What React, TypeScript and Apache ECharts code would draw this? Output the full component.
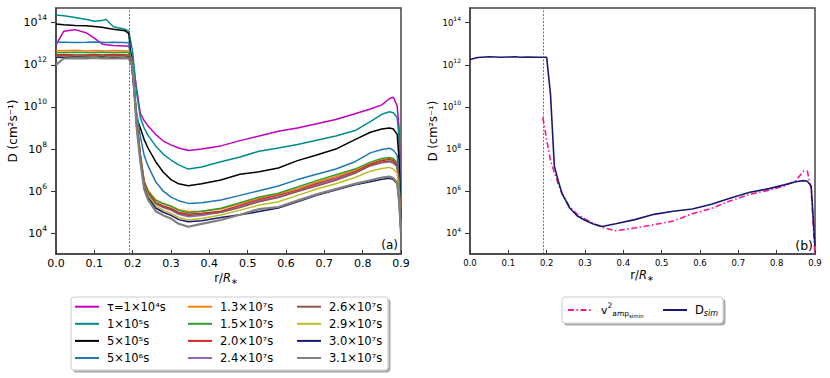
import React, { useEffect, useRef } from 'react';
import * as echarts from 'echarts';

// radial grid r/R*
const rGrid = [0, 0.02, 0.05, 0.08, 0.1, 0.12, 0.13, 0.15, 0.18, 0.19, 0.2, 0.21, 0.22, 0.23, 0.24, 0.26, 0.28, 0.3, 0.32, 0.345, 0.38, 0.43, 0.48, 0.53, 0.58, 0.63, 0.68, 0.73, 0.78, 0.82, 0.85, 0.87, 0.88, 0.89, 0.895, 0.9];

// log10 D (cm^2 s^-1), panel (a)
const logD_1e4 = [12.95, 13.59, 13.67, 13.51, 13.27, 12.99, 12.95, 12.92, 12.89, 12.88, 12.3, 10.9, 9.7, 9.35, 9.1, 8.7, 8.38, 8.2, 8.05, 7.93, 8.0, 8.15, 8.4, 8.62, 8.85, 9.0, 9.2, 9.4, 9.68, 9.9, 10.1, 10.4, 10.46, 10.05, 9.0, 4.2];
const logD_1e5 = [14.37, 14.33, 14.25, 14.15, 14.07, 14.1, 14.16, 13.81, 13.69, 13.6, 12.6, 10.7, 9.5, 9.0, 8.65, 8.15, 7.75, 7.48, 7.25, 7.05, 7.15, 7.4, 7.62, 7.9, 8.05, 8.22, 8.42, 8.62, 8.88, 9.3, 9.65, 9.77, 9.72, 9.5, 8.5, 4.2];
const logD_5e5 = [13.94, 13.9, 13.87, 13.85, 13.82, 13.78, 13.75, 13.69, 13.62, 13.48, 11.5, 9.5, 9.0, 8.45, 8.05, 7.4, 6.9, 6.55, 6.35, 6.26, 6.35, 6.53, 6.8, 6.92, 7.1, 7.45, 7.72, 8.0, 8.45, 8.8, 8.95, 9.0, 8.95, 8.7, 7.5, 4.2];
const logD_5e6 = [13.07, 13.07, 13.06, 13.07, 13.08, 13.07, 13.06, 13.07, 13.06, 13.05, 11.5, 9.8, 8.6, 7.7, 7.2, 6.45, 6.0, 5.72, 5.55, 5.42, 5.45, 5.58, 5.8, 6.02, 6.25, 6.55, 6.8, 7.05, 7.4, 7.82, 7.98, 8.04, 7.95, 7.7, 6.5, 4.0];
const logD_13e7 = [12.68, 12.67, 12.69, 12.66, 12.68, 12.67, 12.66, 12.68, 12.67, 12.66, 12.0, 9.6, 7.8, 6.5, 6.05, 5.6, 5.42, 5.3, 5.12, 5.03, 5.05, 5.15, 5.4, 5.65, 5.85, 6.12, 6.42, 6.7, 6.98, 7.3, 7.48, 7.55, 7.5, 7.3, 6.2, 4.0];
const logD_15e7 = [12.58, 12.59, 12.6, 12.58, 12.59, 12.6, 12.58, 12.59, 12.6, 12.58, 12.0, 9.5, 7.7, 6.45, 6.0, 5.55, 5.4, 5.28, 5.1, 4.98, 5.05, 5.19, 5.45, 5.72, 5.9, 6.2, 6.5, 6.78, 7.05, 7.38, 7.55, 7.6, 7.55, 7.35, 6.3, 4.0];
const logD_20e7 = [12.48, 12.49, 12.47, 12.48, 12.49, 12.47, 12.48, 12.49, 12.48, 12.47, 11.9, 9.4, 7.7, 6.4, 5.95, 5.45, 5.3, 5.18, 5.0, 4.9, 4.95, 5.05, 5.32, 5.6, 5.8, 6.05, 6.35, 6.62, 6.92, 7.28, 7.45, 7.51, 7.45, 7.25, 6.2, 4.0];
const logD_24e7 = [12.4, 12.41, 12.39, 12.4, 12.41, 12.39, 12.4, 12.41, 12.4, 12.39, 11.9, 9.3, 7.6, 6.35, 5.9, 5.4, 5.22, 5.1, 4.9, 4.79, 4.85, 5.0, 5.25, 5.55, 5.72, 6.0, 6.3, 6.58, 6.88, 7.2, 7.35, 7.39, 7.33, 7.15, 6.1, 4.0];
const logD_26e7 = [12.44, 12.43, 12.45, 12.44, 12.43, 12.45, 12.44, 12.43, 12.44, 12.45, 11.9, 9.3, 7.6, 6.35, 5.9, 5.42, 5.25, 5.12, 4.95, 4.85, 4.9, 5.0, 5.22, 5.5, 5.7, 5.98, 6.25, 6.52, 6.85, 7.22, 7.38, 7.43, 7.38, 7.2, 6.1, 4.0];
const logD_29e7 = [12.38, 12.37, 12.39, 12.38, 12.37, 12.39, 12.38, 12.37, 12.38, 12.39, 11.9, 9.2, 7.5, 6.25, 5.8, 5.3, 5.1, 4.95, 4.75, 4.63, 4.7, 4.87, 5.1, 5.34, 5.5, 5.8, 6.1, 6.35, 6.65, 6.95, 7.08, 7.13, 7.05, 6.85, 5.9, 4.0];
const logD_30e7 = [12.36, 12.35, 12.37, 12.36, 12.35, 12.37, 12.36, 12.35, 12.36, 12.37, 11.9, 9.2, 7.5, 6.2, 5.7, 5.2, 5.0, 4.85, 4.65, 4.55, 4.6, 4.75, 4.88, 5.03, 5.2, 5.5, 5.8, 6.05, 6.3, 6.45, 6.57, 6.61, 6.55, 6.35, 5.5, 4.0];
const logD_31e7 = [12.0, 12.3, 12.32, 12.31, 12.33, 12.31, 12.32, 12.3, 12.32, 12.31, 11.9, 9.1, 7.4, 6.1, 5.6, 5.05, 4.85, 4.7, 4.45, 4.31, 4.45, 4.63, 4.88, 5.15, 5.25, 5.55, 5.85, 6.1, 6.35, 6.52, 6.65, 6.69, 6.62, 6.4, 5.5, 4.0];

// panel (b)
const logV2amp = [null, null, null, null, null, null, null, null, null, 9.5, 8.45, 7.45, 6.9, 6.35, 5.88, 5.26, 4.9, 4.68, 4.48, 4.28, 4.12, 4.25, 4.41, 4.58, 4.93, 5.18, 5.55, 5.85, 6.05, 6.25, 6.5, 6.95, 6.95, 6.1, 4.5, 2.9];
const logDsim = [12.25, 12.35, 12.38, 12.36, 12.37, 12.38, 12.36, 12.37, 12.36, 12.36, 12.36, 10.6, 7.2, 6.5, 5.9, 5.2, 4.82, 4.62, 4.45, 4.32, 4.45, 4.65, 4.9, 5.05, 5.15, 5.38, 5.68, 5.95, 6.12, 6.3, 6.45, 6.5, 6.47, 6.25, 4.8, 3.4];

const seriesNamesA = ['τ=1×10⁴s', '1×10⁵s', '5×10⁵s', '5×10⁶s', '1.3×10⁷s', '1.5×10⁷s', '2.0×10⁷s', '2.4×10⁷s', '2.6×10⁷s', '2.9×10⁷s', '3.0×10⁷s', '3.1×10⁷s'];
const seriesValuesA = [logD_1e4, logD_1e5, logD_5e5, logD_5e6, logD_13e7, logD_15e7, logD_20e7, logD_24e7, logD_26e7, logD_29e7, logD_30e7, logD_31e7];
const seriesColorsA = ['#bf00bf', '#008b8b', '#000000', '#1f77b4', '#ff7f0e', '#2ca02c', '#d62728', '#9467bd', '#8c564b', '#bcbd22', '#191970', '#7f7f7f'];

const xTicks = [0, 0.1, 0.2, 0.3, 0.4, 0.5, 0.6, 0.7, 0.8, 0.9];
const yTickExps = [4, 6, 8, 10, 12, 14];
const yMin = 3.017;
const yMax = 14.698;
const cutoffR = 0.191;

const FONT = 'DejaVu Sans';

function pairs(vals: (number | null)[]) {
  const out: [number, number][] = [];
  rGrid.forEach((r, i) => {
    const v = vals[i];
    if (v !== null && v !== undefined) out.push([r, v]);
  });
  return out;
}

export default function App() {
  const ref = useRef<HTMLDivElement>(null);
  useEffect(() => {
    if (!ref.current) return;
    const chart = echarts.init(ref.current, null, { renderer: 'svg' });

    const mkX = (gi: number, fs: number) => ({
      gridIndex: gi,
      type: 'value',
      min: 0,
      max: 0.9,
      interval: 0.1,
      axisLine: { show: true, onZero: false, lineStyle: { color: '#444', width: 1.5 } },
      axisTick: { show: true, inside: true, length: 4, lineStyle: { color: '#333', width: 1 }, customValues: xTicks },
      axisLabel: { show: true, customValues: xTicks, formatter: (v: number) => v.toFixed(1), fontSize: fs, color: '#000', margin: 4, fontFamily: FONT },
      splitLine: { show: false },
    });
    const mkY = (gi: number, fs: number, sfs: number) => ({
      gridIndex: gi,
      type: 'value',
      min: yMin,
      max: yMax,
      axisLine: { show: true, onZero: false, lineStyle: { color: '#444', width: 1.5 } },
      axisTick: { show: true, inside: false, length: 5, lineStyle: { color: '#333', width: 1 }, customValues: yTickExps },
      axisLabel: {
        show: true,
        customValues: yTickExps,
        margin: 9,
        formatter: (v: number) => '{b|10}{sup|' + Math.round(v) + '}',
        rich: {
          b: { fontSize: fs, color: '#000', fontFamily: FONT },
          sup: { fontSize: sfs, color: '#000', fontFamily: FONT, padding: [0, 0, Math.round(fs * 0.9), 0] },
        },
      },
      splitLine: { show: false },
    });

    const markLine = {
      silent: true,
      symbol: ['none', 'none'],
      label: { show: false },
      lineStyle: { color: '#4a4a9a', type: [2, 1.5], width: 0.8 },
      data: [{ xAxis: cutoffR }],
    };

    const seriesA = seriesNamesA.map((name, i) => ({
      name,
      type: 'line',
      xAxisIndex: 0,
      yAxisIndex: 0,
      data: pairs(seriesValuesA[i]),
      showSymbol: false,
      symbol: 'none',
      lineStyle: { color: seriesColorsA[i], width: i === 11 ? 2.2 : 1.5 },
      itemStyle: { color: seriesColorsA[i] },
      ...(i === 0 ? { markLine } : {}),
    }));

    const seriesB = [
      {
        name: 'v2amp',
        type: 'line',
        xAxisIndex: 1,
        yAxisIndex: 1,
        data: pairs(logV2amp),
        showSymbol: false,
        symbol: 'none',
        lineStyle: { color: '#ff1493', width: 1.6, type: [6, 2.5, 1.5, 2.5] },
        itemStyle: { color: '#ff1493' },
        markLine,
      },
      {
        name: 'Dsim',
        type: 'line',
        xAxisIndex: 1,
        yAxisIndex: 1,
        data: pairs(logDsim),
        showSymbol: false,
        symbol: 'none',
        lineStyle: { color: '#191970', width: 1.6 },
        itemStyle: { color: '#191970' },
      },
    ];

    const legendBase = {
      orient: 'vertical',
      padding: 0,
      itemGap: 3.1,
      itemWidth: 24,
      itemHeight: 14,
      selectedMode: false,
      itemStyle: { opacity: 0 },
      textStyle: { fontSize: 11.5, color: '#000', fontFamily: FONT, lineHeight: 14, padding: [0, 0, 0, 3] },
    };

    const option: any = {
      animation: false,
      backgroundColor: '#ffffff',
      textStyle: { fontFamily: FONT },
      grid: [
        { left: 56, top: 8, width: 345, height: 246, show: true, borderColor: '#444', borderWidth: 1.5, backgroundColor: 'transparent' },
        { left: 470, top: 8, width: 345, height: 246, show: true, borderColor: '#444', borderWidth: 1.5, backgroundColor: 'transparent' },
      ],
      xAxis: [mkX(0, 11), mkX(1, 8.5)],
      yAxis: [mkY(0, 11, 7.5), mkY(1, 8.5, 6)],
      legend: [
        { ...legendBase, left: 74, top: 299.7, data: seriesNamesA.slice(0, 4) },
        { ...legendBase, left: 187, top: 299.7, data: seriesNamesA.slice(4, 8) },
        { ...legendBase, left: 296, top: 299.7, data: seriesNamesA.slice(8, 12) },
        {
          ...legendBase,
          orient: 'horizontal',
          left: 567,
          top: 301,
          itemWidth: 23,
          itemHeight: 18,
          data: ['v2amp'],
          formatter: () => '{v|v}{sup|2}{sub|amp}{ss|simin}',
          textStyle: {
            fontSize: 11, color: '#000', fontFamily: FONT, lineHeight: 18, padding: [0, 0, 0, 5],
            rich: {
              v: { fontSize: 11, fontFamily: FONT, color: '#000' },
              sup: { fontSize: 7.5, fontFamily: FONT, color: '#000', padding: [0, 0, 9, 0] },
              sub: { fontSize: 7.5, fontFamily: FONT, color: '#000', padding: [7, 0, 0, 0] },
              ss: { fontSize: 5.5, fontFamily: FONT, color: '#000', padding: [11, 0, 0, 0] },
            },
          },
        },
        {
          ...legendBase,
          orient: 'horizontal',
          left: 662,
          top: 301,
          itemWidth: 24,
          itemHeight: 18,
          data: ['Dsim'],
          formatter: () => '{d|D}{sub|sim}',
          textStyle: {
            fontSize: 11, color: '#000', fontFamily: FONT, lineHeight: 18, padding: [0, 0, 0, 3],
            rich: {
              d: { fontSize: 11.5, fontFamily: FONT, color: '#000' },
              sub: { fontSize: 8, fontFamily: FONT, fontStyle: 'italic', color: '#000', padding: [6, 0, 0, 0] },
            },
          },
        },
      ],
      graphic: [
        {
          type: 'rect', z: 0,
          shape: { x: 71, y: 297, width: 317, height: 73, r: 3 },
          style: { fill: '#fff', stroke: '#cccccc', lineWidth: 1, shadowColor: 'rgba(0,0,0,0.35)', shadowOffsetX: 2, shadowOffsetY: 2, shadowBlur: 1 },
        },
        {
          type: 'rect', z: 0,
          shape: { x: 562, y: 297, width: 161, height: 26, r: 3 },
          style: { fill: '#fff', stroke: '#cccccc', lineWidth: 1, shadowColor: 'rgba(0,0,0,0.35)', shadowOffsetX: 2, shadowOffsetY: 2, shadowBlur: 1 },
        },
        {
          type: 'text', x: 398, y: 245, z: 10,
          style: { text: '(a)', fontSize: 12, fontFamily: FONT, fill: '#000', align: 'right', verticalAlign: 'middle' },
        },
        {
          type: 'text', x: 813, y: 245, z: 10,
          style: { text: '(b)', fontSize: 12.5, fontFamily: FONT, fill: '#000', align: 'right', verticalAlign: 'middle' },
        },
        {
          type: 'text', x: 226, y: 278,
          style: {
            text: 'r/{i|R}{s|∗}', fontSize: 11.5, fontFamily: FONT, fill: '#000', align: 'center', verticalAlign: 'middle',
            rich: { i: { fontSize: 11.5, fontStyle: 'italic', fontFamily: FONT }, s: { fontSize: 8, fontFamily: FONT, padding: [6, 0, 0, 0] } },
          },
        },
        {
          type: 'text', x: 642, y: 275,
          style: {
            text: 'r/{i|R}{s|∗}', fontSize: 11.5, fontFamily: FONT, fill: '#000', align: 'center', verticalAlign: 'middle',
            rich: { i: { fontSize: 11.5, fontStyle: 'italic', fontFamily: FONT }, s: { fontSize: 8, fontFamily: FONT, padding: [6, 0, 0, 0] } },
          },
        },
        {
          type: 'text', x: 13, y: 131, rotation: Math.PI / 2,
          style: { text: 'D (cm²s⁻¹)', fontSize: 12, fontFamily: FONT, fill: '#000', align: 'center', verticalAlign: 'middle' },
        },
        {
          type: 'text', x: 433, y: 131, rotation: Math.PI / 2,
          style: { text: 'D (cm²s⁻¹)', fontSize: 11.5, fontFamily: FONT, fill: '#000', align: 'center', verticalAlign: 'middle' },
        },
      ],
      series: [...seriesA, ...seriesB],
    };

    chart.setOption(option);
    return () => chart.dispose();
  }, []);

  return <div ref={ref} style={{ position: 'fixed', left: 0, top: 0, width: 830, height: 378 }} />;
}
